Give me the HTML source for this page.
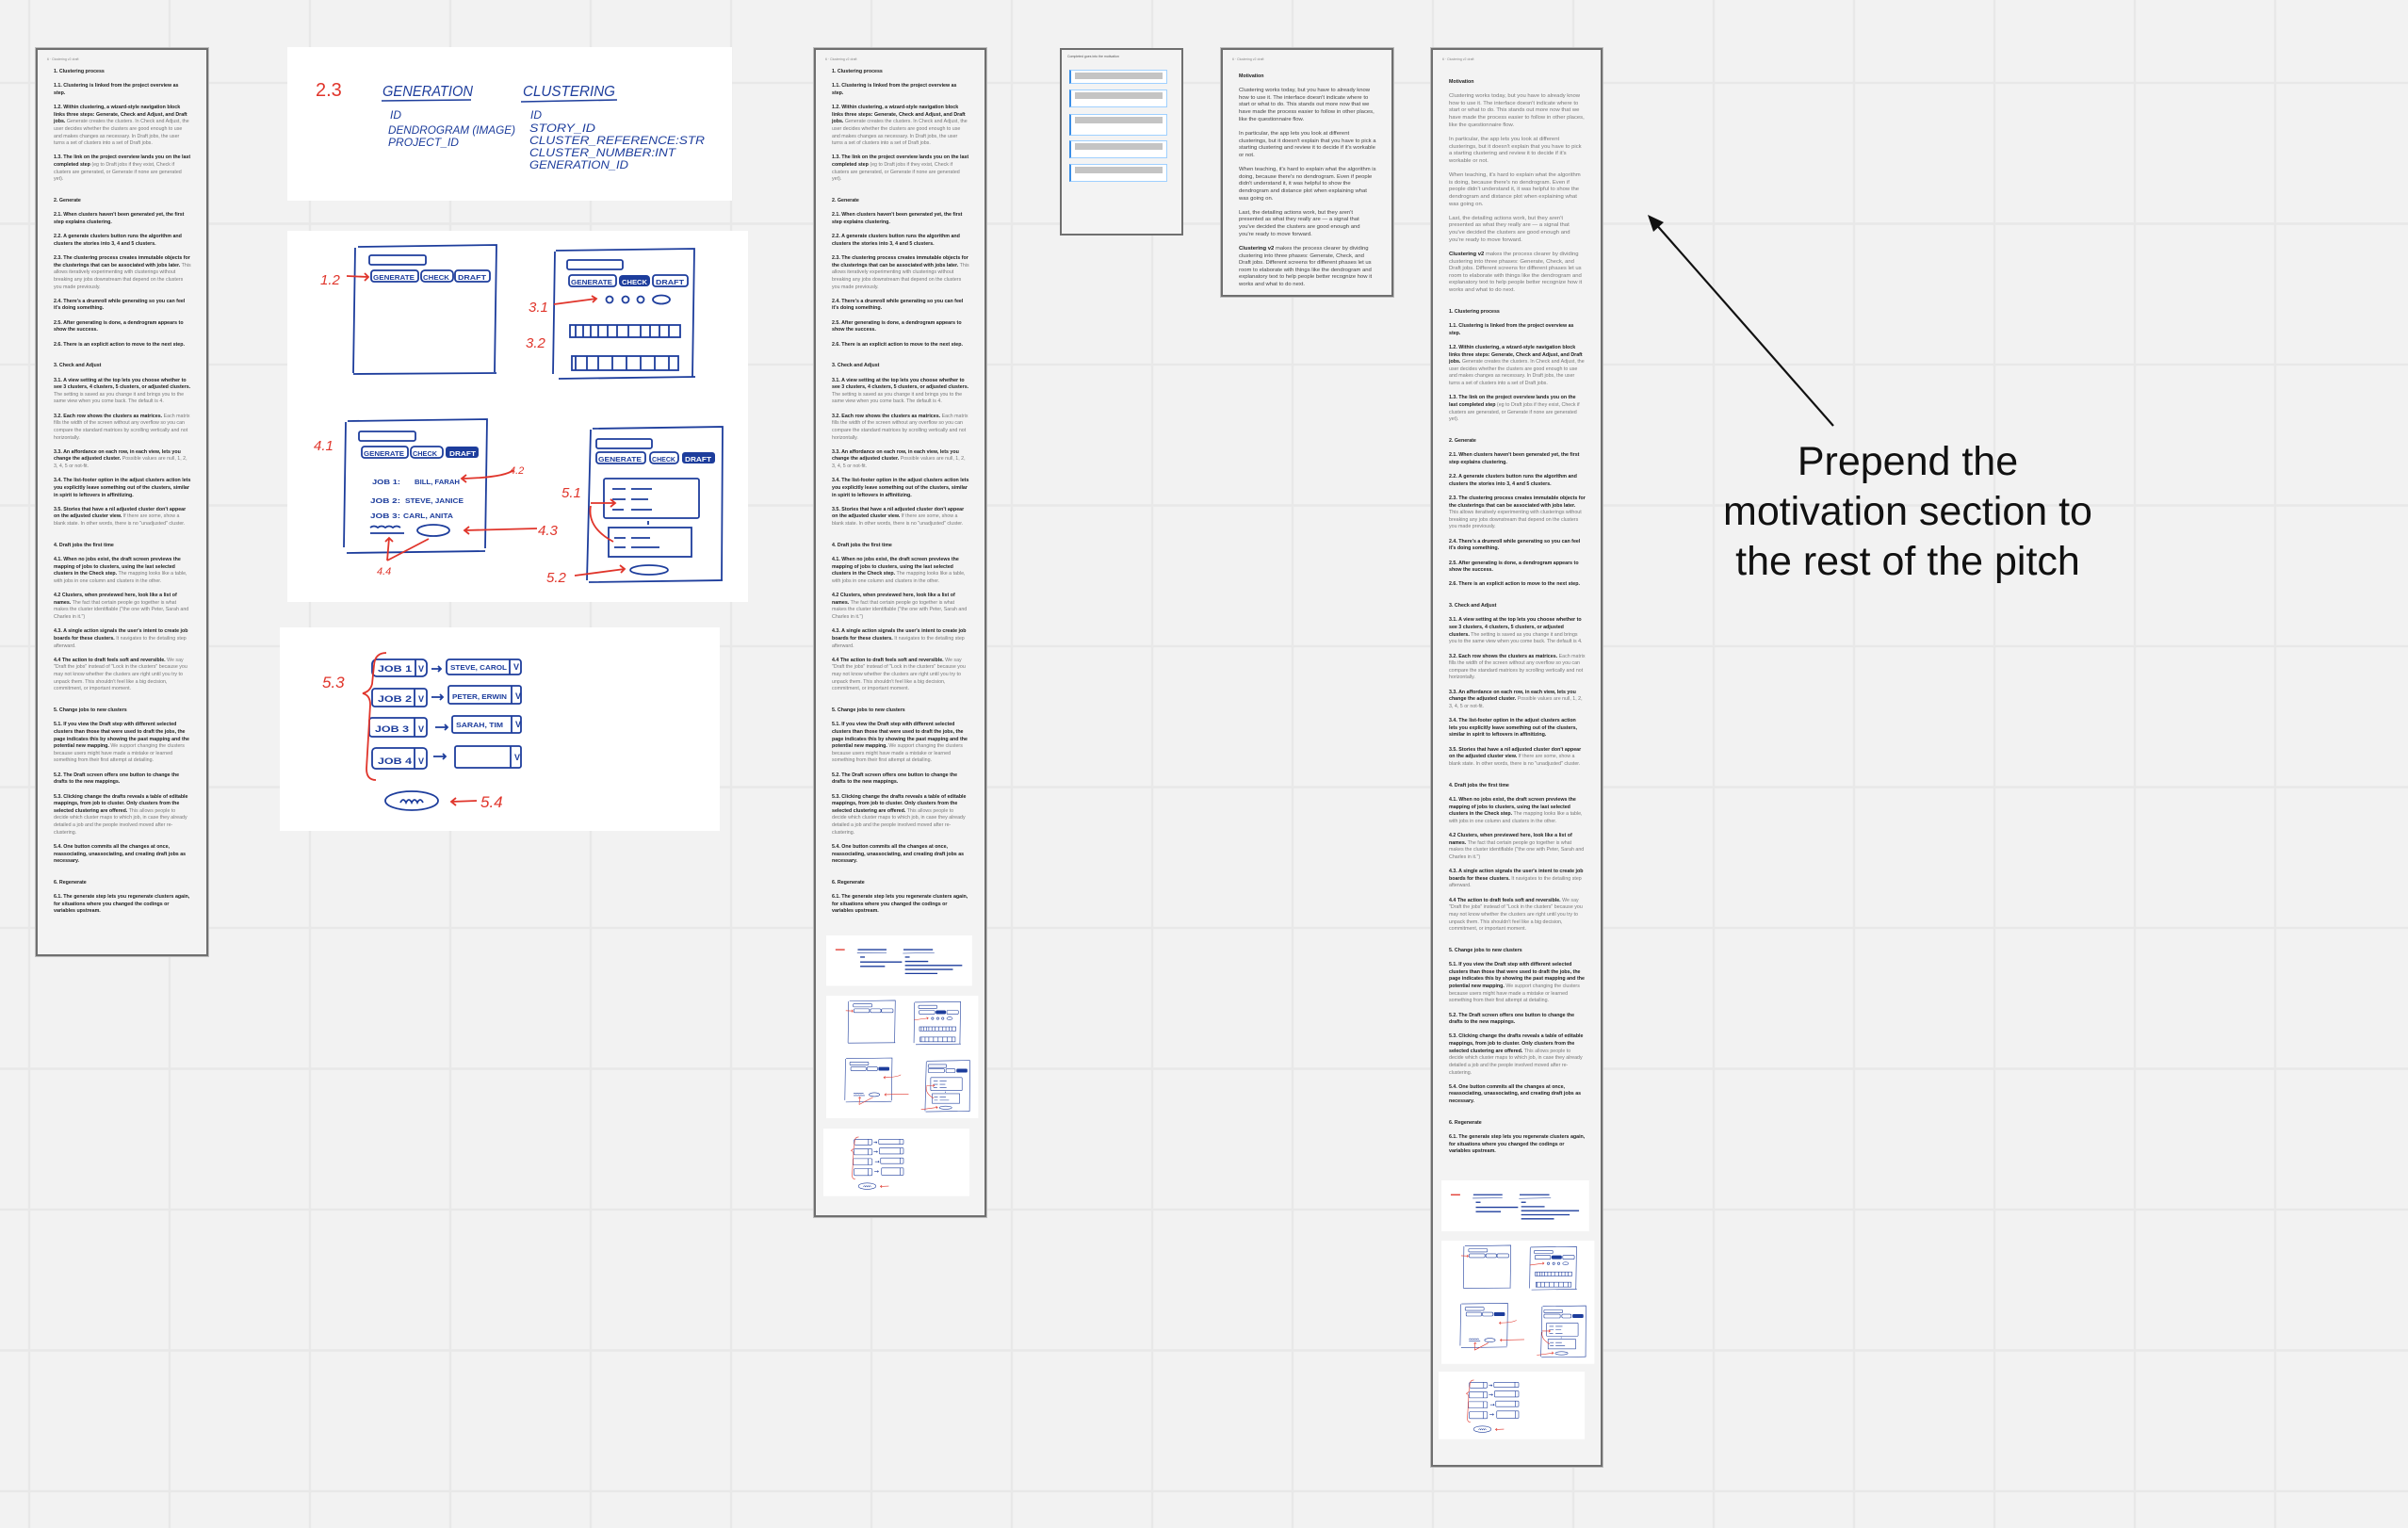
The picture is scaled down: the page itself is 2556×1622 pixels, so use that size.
<!DOCTYPE html>
<html><head><meta charset="utf-8">
<style>
html,body{margin:0;padding:0;width:2556px;height:1622px;overflow:hidden;background:#f2f2f2;}
.layer{position:absolute;left:0;top:0;}
.doc{position:absolute;box-sizing:border-box;border:2px solid #6f6f6f;box-shadow:0 0 0 1px #bdbdbd;background:#f3f3f3;
 font-family:"Liberation Sans",sans-serif;font-size:5.3px;line-height:7.62px;color:#777;padding:20px 16px 0 17px;overflow:hidden;}
.doc .hd{position:absolute;left:10px;top:7px;font-size:3.5px;color:#888;}
.doc p{margin:0 0 7.62px 0;}
.doc p.m{font-size:5.9px;}
.doc b{color:#222;}
.doc h4{margin:15.2px 0 7.62px 0;font-size:5.3px;color:#222;}
.doc h4.first{margin-top:0;}
.card{position:absolute;left:1125px;top:51px;width:131px;height:199px;box-sizing:border-box;border:2px solid #6f6f6f;background:#f3f3f3;}
.card .t{position:absolute;left:6px;top:5px;font-family:"Liberation Sans",sans-serif;font-size:3.5px;color:#555;}
.card .bx{position:absolute;left:8px;width:104px;background:#fff;border:1px solid #9fd0ff;border-left:2px solid #3a8ee6;box-sizing:border-box;}
.card .bx i{position:absolute;left:4px;right:4px;top:2px;height:7px;background:#c4c4c4;}
</style></head><body>
<svg class="layer" width="2556" height="1622" xmlns="http://www.w3.org/2000/svg">
<g stroke="#e8e8e8" stroke-width="2.5">
<line x1="31" y1="0" x2="31" y2="1622"/><line x1="180" y1="0" x2="180" y2="1622"/><line x1="329" y1="0" x2="329" y2="1622"/><line x1="478" y1="0" x2="478" y2="1622"/><line x1="627" y1="0" x2="627" y2="1622"/><line x1="776" y1="0" x2="776" y2="1622"/><line x1="925" y1="0" x2="925" y2="1622"/><line x1="1074" y1="0" x2="1074" y2="1622"/><line x1="1223" y1="0" x2="1223" y2="1622"/><line x1="1372" y1="0" x2="1372" y2="1622"/><line x1="1521" y1="0" x2="1521" y2="1622"/><line x1="1670" y1="0" x2="1670" y2="1622"/><line x1="1819" y1="0" x2="1819" y2="1622"/><line x1="1968" y1="0" x2="1968" y2="1622"/><line x1="2117" y1="0" x2="2117" y2="1622"/><line x1="2266" y1="0" x2="2266" y2="1622"/><line x1="2415" y1="0" x2="2415" y2="1622"/>
<line x1="0" y1="88" x2="2556" y2="88"/><line x1="0" y1="237.5" x2="2556" y2="237.5"/><line x1="0" y1="387" x2="2556" y2="387"/><line x1="0" y1="536.5" x2="2556" y2="536.5"/><line x1="0" y1="686" x2="2556" y2="686"/><line x1="0" y1="835.5" x2="2556" y2="835.5"/><line x1="0" y1="985" x2="2556" y2="985"/><line x1="0" y1="1134.5" x2="2556" y2="1134.5"/><line x1="0" y1="1284" x2="2556" y2="1284"/><line x1="0" y1="1433.5" x2="2556" y2="1433.5"/><line x1="0" y1="1583" x2="2556" y2="1583"/>
</g>
</svg>

<div class="doc" style="left:38px;top:51px;width:183px;height:964px;">
<div class="hd">6 · Clustering v2 draft</div>
<h4 class="first">1. Clustering process</h4>
<p><b>1.1. Clustering is linked from the project overview as step.</b></p>
<p><b>1.2. Within clustering, a wizard-style navigation block links three steps: Generate, Check and Adjust, and Draft jobs.</b> Generate creates the clusters. In Check and Adjust, the user decides whether the clusters are good enough to use and makes changes as necessary. In Draft jobs, the user turns a set of clusters into a set of Draft jobs.</p>
<p><b>1.3. The link on the project overview lands you on the last completed step</b> (eg to Draft jobs if they exist, Check if clusters are generated, or Generate if none are generated yet).</p>
<h4>2. Generate</h4>
<p><b>2.1. When clusters haven't been generated yet, the first step explains clustering.</b></p>
<p><b>2.2. A generate clusters button runs the algorithm and clusters the stories into 3, 4 and 5 clusters.</b></p>
<p><b>2.3. The clustering process creates immutable objects for the clusterings that can be associated with jobs later.</b> This allows iteratively experimenting with clusterings without breaking any jobs downstream that depend on the clusters you made previously.</p>
<p><b>2.4. There's a drumroll while generating so you can feel it's doing something.</b></p>
<p><b>2.5. After generating is done, a dendrogram appears to show the success.</b></p>
<p><b>2.6. There is an explicit action to move to the next step.</b></p>
<h4>3. Check and Adjust</h4>
<p><b>3.1. A view setting at the top lets you choose whether to see 3 clusters, 4 clusters, 5 clusters, or adjusted clusters.</b> The setting is saved as you change it and brings you to the same view when you come back. The default is 4.</p>
<p><b>3.2. Each row shows the clusters as matrices.</b> Each matrix fills the width of the screen without any overflow so you can compare the standard matrices by scrolling vertically and not horizontally.</p>
<p><b>3.3. An affordance on each row, in each view, lets you change the adjusted cluster.</b> Possible values are null, 1, 2, 3, 4, 5 or not-fit.</p>
<p><b>3.4. The list-footer option in the adjust clusters action lets you explicitly leave something out of the clusters, similar in spirit to leftovers in affinitizing.</b></p>
<p><b>3.5. Stories that have a nil adjusted cluster don't appear on the adjusted cluster view.</b> If there are some, show a blank state. In other words, there is no "unadjusted" cluster.</p>
<h4>4. Draft jobs the first time</h4>
<p><b>4.1. When no jobs exist, the draft screen previews the mapping of jobs to clusters, using the last selected clusters in the Check step.</b> The mapping looks like a table, with jobs in one column and clusters in the other.</p>
<p><b>4.2 Clusters, when previewed here, look like a list of names.</b> The fact that certain people go together is what makes the cluster identifiable ("the one with Peter, Sarah and Charles in it.")</p>
<p><b>4.3. A single action signals the user's intent to create job boards for these clusters.</b> It navigates to the detailing step afterward.</p>
<p><b>4.4 The action to draft feels soft and reversible.</b> We say "Draft the jobs" instead of "Lock in the clusters" because you may not know whether the clusters are right until you try to unpack them. This shouldn't feel like a big decision, commitment, or important moment.</p>
<h4>5. Change jobs to new clusters</h4>
<p><b>5.1. If you view the Draft step with different selected clusters than those that were used to draft the jobs, the page indicates this by showing the past mapping and the potential new mapping.</b> We support changing the clusters because users might have made a mistake or learned something from their first attempt at detailing.</p>
<p><b>5.2. The Draft screen offers one button to change the drafts to the new mappings.</b></p>
<p><b>5.3. Clicking change the drafts reveals a table of editable mappings, from job to cluster. Only clusters from the selected clustering are offered.</b> This allows people to decide which cluster maps to which job, in case they already detailed a job and the people involved moved after re-clustering.</p>
<p><b>5.4. One button commits all the changes at once, reassociating, unassociating, and creating draft jobs as necessary.</b></p>
<h4>6. Regenerate</h4>
<p><b>6.1. The generate step lets you regenerate clusters again, for situations where you changed the codings or variables upstream.</b></p>
</div>

<div class="doc" style="left:864px;top:51px;width:183px;height:1241px;">
<div class="hd">6 · Clustering v2 draft</div>
<h4 class="first">1. Clustering process</h4>
<p><b>1.1. Clustering is linked from the project overview as step.</b></p>
<p><b>1.2. Within clustering, a wizard-style navigation block links three steps: Generate, Check and Adjust, and Draft jobs.</b> Generate creates the clusters. In Check and Adjust, the user decides whether the clusters are good enough to use and makes changes as necessary. In Draft jobs, the user turns a set of clusters into a set of Draft jobs.</p>
<p><b>1.3. The link on the project overview lands you on the last completed step</b> (eg to Draft jobs if they exist, Check if clusters are generated, or Generate if none are generated yet).</p>
<h4>2. Generate</h4>
<p><b>2.1. When clusters haven't been generated yet, the first step explains clustering.</b></p>
<p><b>2.2. A generate clusters button runs the algorithm and clusters the stories into 3, 4 and 5 clusters.</b></p>
<p><b>2.3. The clustering process creates immutable objects for the clusterings that can be associated with jobs later.</b> This allows iteratively experimenting with clusterings without breaking any jobs downstream that depend on the clusters you made previously.</p>
<p><b>2.4. There's a drumroll while generating so you can feel it's doing something.</b></p>
<p><b>2.5. After generating is done, a dendrogram appears to show the success.</b></p>
<p><b>2.6. There is an explicit action to move to the next step.</b></p>
<h4>3. Check and Adjust</h4>
<p><b>3.1. A view setting at the top lets you choose whether to see 3 clusters, 4 clusters, 5 clusters, or adjusted clusters.</b> The setting is saved as you change it and brings you to the same view when you come back. The default is 4.</p>
<p><b>3.2. Each row shows the clusters as matrices.</b> Each matrix fills the width of the screen without any overflow so you can compare the standard matrices by scrolling vertically and not horizontally.</p>
<p><b>3.3. An affordance on each row, in each view, lets you change the adjusted cluster.</b> Possible values are null, 1, 2, 3, 4, 5 or not-fit.</p>
<p><b>3.4. The list-footer option in the adjust clusters action lets you explicitly leave something out of the clusters, similar in spirit to leftovers in affinitizing.</b></p>
<p><b>3.5. Stories that have a nil adjusted cluster don't appear on the adjusted cluster view.</b> If there are some, show a blank state. In other words, there is no "unadjusted" cluster.</p>
<h4>4. Draft jobs the first time</h4>
<p><b>4.1. When no jobs exist, the draft screen previews the mapping of jobs to clusters, using the last selected clusters in the Check step.</b> The mapping looks like a table, with jobs in one column and clusters in the other.</p>
<p><b>4.2 Clusters, when previewed here, look like a list of names.</b> The fact that certain people go together is what makes the cluster identifiable ("the one with Peter, Sarah and Charles in it.")</p>
<p><b>4.3. A single action signals the user's intent to create job boards for these clusters.</b> It navigates to the detailing step afterward.</p>
<p><b>4.4 The action to draft feels soft and reversible.</b> We say "Draft the jobs" instead of "Lock in the clusters" because you may not know whether the clusters are right until you try to unpack them. This shouldn't feel like a big decision, commitment, or important moment.</p>
<h4>5. Change jobs to new clusters</h4>
<p><b>5.1. If you view the Draft step with different selected clusters than those that were used to draft the jobs, the page indicates this by showing the past mapping and the potential new mapping.</b> We support changing the clusters because users might have made a mistake or learned something from their first attempt at detailing.</p>
<p><b>5.2. The Draft screen offers one button to change the drafts to the new mappings.</b></p>
<p><b>5.3. Clicking change the drafts reveals a table of editable mappings, from job to cluster. Only clusters from the selected clustering are offered.</b> This allows people to decide which cluster maps to which job, in case they already detailed a job and the people involved moved after re-clustering.</p>
<p><b>5.4. One button commits all the changes at once, reassociating, unassociating, and creating draft jobs as necessary.</b></p>
<h4>6. Regenerate</h4>
<p><b>6.1. The generate step lets you regenerate clusters again, for situations where you changed the codings or variables upstream.</b></p>
</div>

<div class="card">
<div class="t">Completed goes into the motivation</div>
<div class="bx" style="top:21px;height:15px;"><i></i></div>
<div class="bx" style="top:42px;height:19px;"><i></i></div>
<div class="bx" style="top:68px;height:23px;"><i></i></div>
<div class="bx" style="top:96px;height:19px;"><i></i></div>
<div class="bx" style="top:121px;height:19px;"><i></i></div>
</div>

<div class="doc" style="left:1296px;top:51px;width:183px;height:264px;padding-top:25px;">
<div class="hd">6 · Clustering v2 draft</div>
<h4 class="first">Motivation</h4>
<p class="m" style="color:#444">Clustering works today, but you have to already know how to use it. The interface doesn't indicate where to start or what to do. This stands out more now that we have made the process easier to follow in other places, like the questionnaire flow.</p>
<p class="m" style="color:#444">In particular, the app lets you look at different clusterings, but it doesn't explain that you have to pick a starting clustering and review it to decide if it's workable or not.</p>
<p class="m" style="color:#444">When teaching, it's hard to explain what the algorithm is doing, because there's no dendrogram. Even if people didn't understand it, it was helpful to show the dendrogram and distance plot when explaining what was going on.</p>
<p class="m" style="color:#444">Last, the detailing actions work, but they aren't presented as what they really are — a signal that you've decided the clusters are good enough and you're ready to move forward.</p>
<p class="m" style="color:#444"><b>Clustering v2</b> makes the process clearer by dividing clustering into three phases: Generate, Check, and Draft jobs. Different screens for different phases let us room to elaborate with things like the dendrogram and explanatory text to help people better recognize how it works and what to do next.</p>
</div>

<div class="doc" style="left:1519px;top:51px;width:182px;height:1506px;padding-top:31px;">
<div class="hd">6 · Clustering v2 draft</div>
<h4 class="first">Motivation</h4>
<p class="m">Clustering works today, but you have to already know how to use it. The interface doesn't indicate where to start or what to do. This stands out more now that we have made the process easier to follow in other places, like the questionnaire flow.</p>
<p class="m">In particular, the app lets you look at different clusterings, but it doesn't explain that you have to pick a starting clustering and review it to decide if it's workable or not.</p>
<p class="m">When teaching, it's hard to explain what the algorithm is doing, because there's no dendrogram. Even if people didn't understand it, it was helpful to show the dendrogram and distance plot when explaining what was going on.</p>
<p class="m">Last, the detailing actions work, but they aren't presented as what they really are — a signal that you've decided the clusters are good enough and you're ready to move forward.</p>
<p class="m"><b>Clustering v2</b> makes the process clearer by dividing clustering into three phases: Generate, Check, and Draft jobs. Different screens for different phases let us room to elaborate with things like the dendrogram and explanatory text to help people better recognize how it works and what to do next.</p>
<h4>1. Clustering process</h4>
<p><b>1.1. Clustering is linked from the project overview as step.</b></p>
<p><b>1.2. Within clustering, a wizard-style navigation block links three steps: Generate, Check and Adjust, and Draft jobs.</b> Generate creates the clusters. In Check and Adjust, the user decides whether the clusters are good enough to use and makes changes as necessary. In Draft jobs, the user turns a set of clusters into a set of Draft jobs.</p>
<p><b>1.3. The link on the project overview lands you on the last completed step</b> (eg to Draft jobs if they exist, Check if clusters are generated, or Generate if none are generated yet).</p>
<h4>2. Generate</h4>
<p><b>2.1. When clusters haven't been generated yet, the first step explains clustering.</b></p>
<p><b>2.2. A generate clusters button runs the algorithm and clusters the stories into 3, 4 and 5 clusters.</b></p>
<p><b>2.3. The clustering process creates immutable objects for the clusterings that can be associated with jobs later.</b> This allows iteratively experimenting with clusterings without breaking any jobs downstream that depend on the clusters you made previously.</p>
<p><b>2.4. There's a drumroll while generating so you can feel it's doing something.</b></p>
<p><b>2.5. After generating is done, a dendrogram appears to show the success.</b></p>
<p><b>2.6. There is an explicit action to move to the next step.</b></p>
<h4>3. Check and Adjust</h4>
<p><b>3.1. A view setting at the top lets you choose whether to see 3 clusters, 4 clusters, 5 clusters, or adjusted clusters.</b> The setting is saved as you change it and brings you to the same view when you come back. The default is 4.</p>
<p><b>3.2. Each row shows the clusters as matrices.</b> Each matrix fills the width of the screen without any overflow so you can compare the standard matrices by scrolling vertically and not horizontally.</p>
<p><b>3.3. An affordance on each row, in each view, lets you change the adjusted cluster.</b> Possible values are null, 1, 2, 3, 4, 5 or not-fit.</p>
<p><b>3.4. The list-footer option in the adjust clusters action lets you explicitly leave something out of the clusters, similar in spirit to leftovers in affinitizing.</b></p>
<p><b>3.5. Stories that have a nil adjusted cluster don't appear on the adjusted cluster view.</b> If there are some, show a blank state. In other words, there is no "unadjusted" cluster.</p>
<h4>4. Draft jobs the first time</h4>
<p><b>4.1. When no jobs exist, the draft screen previews the mapping of jobs to clusters, using the last selected clusters in the Check step.</b> The mapping looks like a table, with jobs in one column and clusters in the other.</p>
<p><b>4.2 Clusters, when previewed here, look like a list of names.</b> The fact that certain people go together is what makes the cluster identifiable ("the one with Peter, Sarah and Charles in it.")</p>
<p><b>4.3. A single action signals the user's intent to create job boards for these clusters.</b> It navigates to the detailing step afterward.</p>
<p><b>4.4 The action to draft feels soft and reversible.</b> We say "Draft the jobs" instead of "Lock in the clusters" because you may not know whether the clusters are right until you try to unpack them. This shouldn't feel like a big decision, commitment, or important moment.</p>
<h4>5. Change jobs to new clusters</h4>
<p><b>5.1. If you view the Draft step with different selected clusters than those that were used to draft the jobs, the page indicates this by showing the past mapping and the potential new mapping.</b> We support changing the clusters because users might have made a mistake or learned something from their first attempt at detailing.</p>
<p><b>5.2. The Draft screen offers one button to change the drafts to the new mappings.</b></p>
<p><b>5.3. Clicking change the drafts reveals a table of editable mappings, from job to cluster. Only clusters from the selected clustering are offered.</b> This allows people to decide which cluster maps to which job, in case they already detailed a job and the people involved moved after re-clustering.</p>
<p><b>5.4. One button commits all the changes at once, reassociating, unassociating, and creating draft jobs as necessary.</b></p>
<h4>6. Regenerate</h4>
<p><b>6.1. The generate step lets you regenerate clusters again, for situations where you changed the codings or variables upstream.</b></p>
</div>

<svg class="layer" width="2556" height="1622" xmlns="http://www.w3.org/2000/svg" xmlns:xlink="http://www.w3.org/1999/xlink" style="pointer-events:none">
<defs>
<g id="sk1">
 <rect x="0" y="0" width="472" height="163" fill="#fff"/>
 <g stroke="#1d3d9c" stroke-width="1.6" fill="none">
  <line x1="100" y1="57" x2="195" y2="56"/><line x1="248" y1="58" x2="350" y2="56"/>
 </g>
</g>
<g id="sk1t" stroke="#1d3d9c" stroke-width="4" fill="none">
 <line x1="102" y1="46" x2="195" y2="46"/><line x1="250" y1="46" x2="345" y2="46"/>
 <line x1="110" y1="70" x2="125" y2="70"/><line x1="110" y1="86" x2="245" y2="86"/><line x1="110" y1="100" x2="190" y2="100"/>
 <line x1="255" y1="70" x2="270" y2="70"/><line x1="255" y1="84" x2="330" y2="84"/><line x1="255" y1="97" x2="440" y2="97"/><line x1="255" y1="110" x2="410" y2="110"/><line x1="255" y1="123" x2="360" y2="123"/>
 <line x1="30" y1="46" x2="60" y2="46" stroke="#e0352b"/>
</g>
<g id="sk2">
 <rect x="0" y="0" width="489" height="394" fill="#fff"/>
 <g stroke="#1d3d9c" stroke-width="1.8" fill="none">
  <path d="M75,17 L222,15 L220,150 M72,18 L70,151 M70,152 L222,151"/>
  <rect x="87" y="26" width="60" height="10" rx="2"/>
  <rect x="89" y="42" width="50" height="12" rx="3"/><rect x="142" y="42" width="34" height="12" rx="4"/><rect x="178" y="42" width="37" height="12" rx="3"/>
  <path d="M285,21 L432,19 L430,155 M284,22 L282,152 M288,157 L433,155"/>
  <rect x="297" y="31" width="59" height="10" rx="2"/>
  <rect x="299" y="47" width="50" height="12" rx="3"/><rect x="388" y="47" width="37" height="12" rx="3"/>
  <circle cx="342" cy="73" r="3.5"/><circle cx="359" cy="73" r="3.5"/><circle cx="375" cy="73" r="3.5"/><ellipse cx="397" cy="73" rx="9" ry="4.5"/>
  <rect x="300" y="100" width="117" height="13"/><rect x="302" y="133" width="113" height="15"/>
  <path d="M306,100v13M314,100v13M322,100v13M330,100v13M340,100v13M350,100v13M362,100v13M375,100v13M385,100v13M395,100v13M405,100v13M306,133v15M318,133v15M330,133v15M345,133v15M360,133v15M375,133v15M390,133v15M405,133v15"/>
  <path d="M64,202 L212,200 L210,337 M62,203 L60,336 M63,342 L210,340"/>
  <rect x="76" y="213" width="60" height="10" rx="2"/>
  <rect x="79" y="229" width="49" height="12" rx="3"/><rect x="131" y="229" width="34" height="12" rx="4"/>
  <ellipse cx="155" cy="318" rx="17" ry="6"/>
  <path d="M88,315 q4,-3 8,0 q4,-3 8,0 q4,-3 8,0 q4,-3 8,0 M88,321 h36"/>
  <path d="M324,210 L462,208 L461,372 M322,211 L318,371 M320,373 L462,371"/>
  <rect x="328" y="221" width="59" height="10" rx="2"/>
  <rect x="328" y="235" width="52" height="12" rx="3"/><rect x="385" y="235" width="30" height="12" rx="4"/>
  <rect x="336" y="263" width="101" height="42" rx="2"/><rect x="341" y="315" width="88" height="31"/>
  <path d="M345,274h14M365,274h22M345,285h14M365,285h18M345,296h12M365,296h22M347,326h12M365,326h20M347,336h12M365,336h30M383,308v4"/>
  <ellipse cx="384" cy="360" rx="20" ry="5"/>
 </g>
 <g fill="#1d3d9c"><rect x="352" y="47" width="33" height="12" rx="4"/><rect x="168" y="229" width="35" height="12" rx="3"/><rect x="419" y="235" width="35" height="12" rx="3"/></g>
 <g stroke="#e0352b" stroke-width="1.8" fill="none">
  <path d="M63,48 L86,49 M82,45 L86,49 L82,53"/>
  <path d="M283,78 L328,72 M323,69 L328,72 L324,76"/>
  <path d="M240,254 Q230,262 185,263 M190,259 L185,263 L190,267"/>
  <path d="M265,316 L188,318 M193,314 L188,318 L193,322"/>
  <path d="M106,350 L108,326 M106,350 L150,327 M104,330 L108,326 L112,330"/>
  <path d="M322,289 L348,289 M343,285 L348,289 L343,293 M322,292 Q318,315 346,330"/>
  <path d="M305,366 L358,359 M353,355 L358,359 L354,363"/>
 </g>
</g>
<g id="sk3">
 <rect x="0" y="0" width="467" height="216" fill="#fff"/>
 <g stroke="#1d3d9c" stroke-width="1.8" fill="none">
  <rect x="98" y="34" width="58" height="18" rx="5"/><line x1="144" y1="34" x2="144" y2="52"/>
  <rect x="177" y="34" width="79" height="16" rx="3"/><line x1="244" y1="34" x2="244" y2="50"/>
  <rect x="98" y="65" width="58" height="19" rx="3"/><line x1="143" y1="65" x2="143" y2="84"/>
  <rect x="179" y="62" width="77" height="19" rx="2"/><line x1="246" y1="62" x2="246" y2="81"/>
  <rect x="95" y="96" width="61" height="20" rx="3"/><line x1="143" y1="96" x2="143" y2="116"/>
  <rect x="183" y="94" width="73" height="18" rx="2"/><line x1="246" y1="94" x2="246" y2="112"/>
  <rect x="98" y="128" width="58" height="22" rx="4"/><line x1="143" y1="128" x2="143" y2="150"/>
  <rect x="186" y="126" width="70" height="23" rx="2"/><line x1="245" y1="126" x2="245" y2="149"/>
  <path d="M161,44h10M168,41l3,3l-3,3M161,74h12M170,71l3,3l-3,3M165,106h13M175,103l3,3l-3,3M163,137h13M173,134l3,3l-3,3"/>
  <ellipse cx="140" cy="184" rx="28" ry="10"/>
  <path d="M128,186 q3,-6 6,0 q3,-6 6,0 q3,-6 6,0 q3,-6 6,0"/>
 </g>
 <g stroke="#e0352b" stroke-width="1.8" fill="none">
  <path d="M113,27 Q101,27 100,40 L98,60 Q96,68 88,70 Q96,72 96,82 L92,150 Q92,162 102,162"/>
  <path d="M209,184 L182,185 M187,181 L182,185 L187,189"/>
 </g>
</g>
</defs>

<use xlink:href="#sk1" href="#sk1" transform="translate(305,50)"/>
<use xlink:href="#sk2" href="#sk2" transform="translate(305,245)"/>
<use xlink:href="#sk3" href="#sk3" transform="translate(297,666)"/>

<g font-family="Liberation Sans, sans-serif" fill="#1d3d9c" font-style="italic">
 <text x="335" y="102" fill="#e0352b" font-size="20" font-style="normal">2.3</text>
 <text x="406" y="102" font-size="16" textLength="96" lengthAdjust="spacingAndGlyphs">GENERATION</text>
 <text x="555" y="102" font-size="16" textLength="98" lengthAdjust="spacingAndGlyphs">CLUSTERING</text>
 <text x="414" y="126" font-size="12">ID</text>
 <text x="412" y="142" font-size="12" textLength="135" lengthAdjust="spacingAndGlyphs">DENDROGRAM (IMAGE)</text>
 <text x="412" y="155" font-size="12" textLength="75" lengthAdjust="spacingAndGlyphs">PROJECT_ID</text>
 <text x="563" y="126" font-size="12">ID</text>
 <text x="562" y="140" font-size="12" textLength="70" lengthAdjust="spacingAndGlyphs">STORY_ID</text>
 <text x="562" y="153" font-size="12" textLength="186" lengthAdjust="spacingAndGlyphs">CLUSTER_REFERENCE:STR</text>
 <text x="562" y="166" font-size="12" textLength="155" lengthAdjust="spacingAndGlyphs">CLUSTER_NUMBER:INT</text>
 <text x="562" y="179" font-size="12" textLength="105" lengthAdjust="spacingAndGlyphs">GENERATION_ID</text>
</g>
<g font-family="Liberation Sans, sans-serif" font-size="7" fill="#1d3d9c" font-weight="bold">
 <text x="396" y="297" textLength="44" lengthAdjust="spacingAndGlyphs">GENERATE</text>
 <text x="449" y="297" textLength="28" lengthAdjust="spacingAndGlyphs">CHECK</text>
 <text x="486" y="297" textLength="30" lengthAdjust="spacingAndGlyphs">DRAFT</text>
 <text x="606" y="302" textLength="44" lengthAdjust="spacingAndGlyphs">GENERATE</text>
 <text x="660" y="302" fill="#fff" textLength="27" lengthAdjust="spacingAndGlyphs">CHECK</text>
 <text x="696" y="302" textLength="30" lengthAdjust="spacingAndGlyphs">DRAFT</text>
 <text x="386" y="484" textLength="43" lengthAdjust="spacingAndGlyphs">GENERATE</text>
 <text x="438" y="484" textLength="26" lengthAdjust="spacingAndGlyphs">CHECK</text>
 <text x="477" y="484" fill="#fff" textLength="28" lengthAdjust="spacingAndGlyphs">DRAFT</text>
 <text x="635" y="490" textLength="46" lengthAdjust="spacingAndGlyphs">GENERATE</text>
 <text x="692" y="490" textLength="25" lengthAdjust="spacingAndGlyphs">CHECK</text>
 <text x="727" y="490" fill="#fff" textLength="28" lengthAdjust="spacingAndGlyphs">DRAFT</text>
 <text x="395" y="514" textLength="30" lengthAdjust="spacingAndGlyphs">JOB 1:</text>
 <text x="440" y="514" textLength="48" lengthAdjust="spacingAndGlyphs">BILL, FARAH</text>
 <text x="393" y="534" textLength="32" lengthAdjust="spacingAndGlyphs">JOB 2:</text>
 <text x="430" y="534" textLength="62" lengthAdjust="spacingAndGlyphs">STEVE, JANICE</text>
 <text x="393" y="550" textLength="32" lengthAdjust="spacingAndGlyphs">JOB 3:</text>
 <text x="428" y="550" textLength="53" lengthAdjust="spacingAndGlyphs">CARL, ANITA</text>
 <text x="401" y="713" font-size="9" textLength="36" lengthAdjust="spacingAndGlyphs">JOB 1</text>
 <text x="444" y="713" font-size="9">V</text>
 <text x="478" y="711" textLength="60" lengthAdjust="spacingAndGlyphs">STEVE, CAROL</text>
 <text x="545" y="711" font-size="9">V</text>
 <text x="401" y="745" font-size="9" textLength="36" lengthAdjust="spacingAndGlyphs">JOB 2</text>
 <text x="444" y="745" font-size="9">V</text>
 <text x="480" y="742" textLength="58" lengthAdjust="spacingAndGlyphs">PETER, ERWIN</text>
 <text x="547" y="742" font-size="9">V</text>
 <text x="398" y="777" font-size="9" textLength="36" lengthAdjust="spacingAndGlyphs">JOB 3</text>
 <text x="444" y="777" font-size="9">V</text>
 <text x="484" y="772" textLength="50" lengthAdjust="spacingAndGlyphs">SARAH, TIM</text>
 <text x="547" y="772" font-size="9">V</text>
 <text x="401" y="811" font-size="9" textLength="36" lengthAdjust="spacingAndGlyphs">JOB 4</text>
 <text x="444" y="811" font-size="9">V</text>
 <text x="546" y="807" font-size="9">V</text>
</g>
<g font-family="Liberation Sans, sans-serif" fill="#e0352b" font-size="15" font-style="italic">
 <text x="340" y="302">1.2</text>
 <text x="561" y="331">3.1</text>
 <text x="558" y="369">3.2</text>
 <text x="333" y="478">4.1</text>
 <text x="541" y="503" font-size="11">4.2</text>
 <text x="571" y="568">4.3</text>
 <text x="400" y="610" font-size="11">4.4</text>
 <text x="596" y="528">5.1</text>
 <text x="580" y="618">5.2</text>
 <text x="342" y="730" font-size="17">5.3</text>
 <text x="510" y="857" font-size="17">5.4</text>
</g>

<g transform="translate(877,993) scale(0.328)"><use xlink:href="#sk1" href="#sk1"/><use xlink:href="#sk1t" href="#sk1t"/></g>
<use xlink:href="#sk2" href="#sk2" transform="translate(877,1057) scale(0.33)"/>
<use xlink:href="#sk3" href="#sk3" transform="translate(874,1198) scale(0.332)"/>
<g transform="translate(1530,1253) scale(0.332)"><use xlink:href="#sk1" href="#sk1"/><use xlink:href="#sk1t" href="#sk1t"/></g>
<use xlink:href="#sk2" href="#sk2" transform="translate(1530,1317) scale(0.332)"/>
<use xlink:href="#sk3" href="#sk3" transform="translate(1527,1456) scale(0.332)"/>

<line x1="1946" y1="452" x2="1756" y2="236" stroke="#111" stroke-width="2.2"/>
<polygon points="1749,228 1766,236 1755,246" fill="#111"/>
<g font-family="Liberation Sans, sans-serif" font-size="43" fill="#111" text-anchor="middle">
 <text x="2025" y="504">Prepend the</text>
 <text x="2025" y="557">motivation section to</text>
 <text x="2025" y="610">the rest of the pitch</text>
</g>
</svg>
</body></html>
